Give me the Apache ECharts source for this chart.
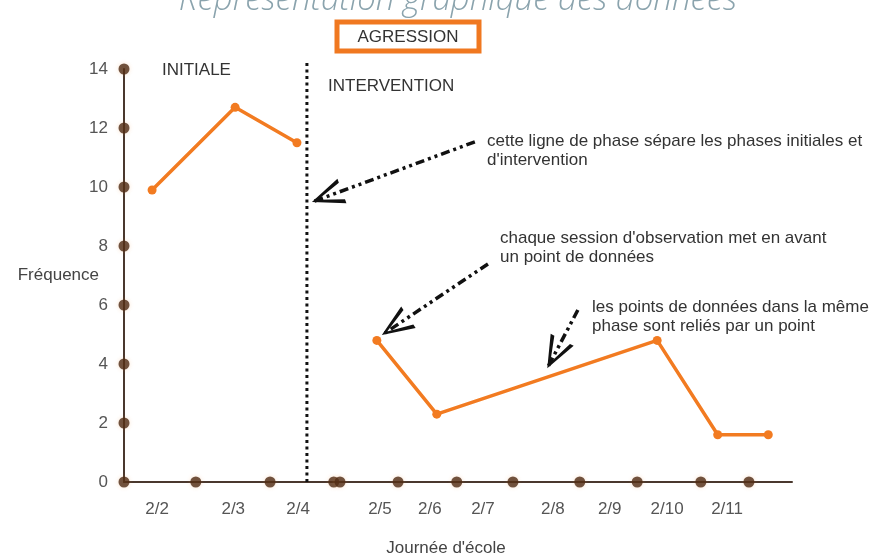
<!DOCTYPE html>
<html><head><meta charset="utf-8">
<script src="https://cdn.jsdelivr.net/npm/echarts@6/dist/echarts.min.js"></script>
<style>html,body{margin:0;padding:0;background:#fff}#c{width:890px;height:554px}</style>
</head><body><div id="c"></div>
<script>
// ---- data ----
const dayLabels = ['2/2','2/3','2/4','2/5','2/6','2/7','2/8','2/9','2/10','2/11'];
const dayLabelPos = [0.53,1.75,2.79,4.10,4.90,5.75,6.87,7.78,8.70,9.66];
const axisDotPos = [1.15,2.34,3.36,3.46,4.39,5.33,6.23,7.30,8.22,9.24,10.01];
const yTicks = [0,2,4,6,8,10,12,14];
const baselineX = [0.45,1.78,2.77];
const baselineY = [9.9,12.7,11.5];
const interventionX = [4.05,5.01,8.54,9.51,10.32];
const interventionY = [4.8,2.3,4.8,1.6,1.6];
const phaseLineX = 2.93;
const phaseLineTop = 14.2;
const arrowStarts = [[5.62,11.53],[5.83,7.39],[7.27,5.83]];
const arrowTips = [[3.01,9.49],[4.13,4.98],[6.78,3.86]];

const FONT = "'Liberation Sans', Arial, sans-serif";
const chevron = 'path://M50,-100 L50.01,-100 L50,-99.99 Z M50,0 L100,100 L84,100 L50,20 L16,100 L0,100 Z';

const zip = (xs, ys) => xs.map((x, i) => [x, ys[i]]);

const chart = echarts.init(document.getElementById('c'), null, {renderer: 'canvas'});
chart.setOption({
  animation: false,
  backgroundColor: '#ffffff',
  textStyle: {fontFamily: FONT},
  grid: {left: 124, right: 98, top: 69, bottom: 72, outerBoundsMode: 'none', containLabel: false},
  xAxis: {
    type: 'value', min: 0, max: 10.7,
    axisLine: {show: true, lineStyle: {color: '#4a382e', width: 2}},
    axisTick: {show: false},
    splitLine: {show: false},
    axisLabel: {
      customValues: dayLabelPos,
      formatter: (v) => {
        let best = 0;
        dayLabelPos.forEach((p, i) => { if (Math.abs(p - v) < Math.abs(dayLabelPos[best] - v)) best = i; });
        return dayLabels[best];
      },
      margin: 19, color: '#555', fontSize: 17, fontFamily: FONT
    },
    name: "Journée d'école", nameLocation: 'middle', nameGap: 58, nameMoveOverlap: false,
    nameTextStyle: {color: '#444', fontSize: 17, fontFamily: FONT, padding: [0, 24, 0, 0]}
  },
  yAxis: {
    type: 'value', min: 0, max: 14, interval: 2,
    axisLine: {show: true, lineStyle: {color: '#4a382e', width: 2}},
    axisTick: {show: false},
    splitLine: {show: false},
    axisLabel: {margin: 16, color: '#555', fontSize: 17, fontFamily: FONT},
    name: 'Fréquence', nameLocation: 'middle', nameRotate: 0, nameGap: 25, nameMoveOverlap: false,
    nameTextStyle: {color: '#444', fontSize: 17, fontFamily: FONT}
  },
  series: [
    {
      type: 'line', name: 'phase', data: [[phaseLineX, 0], [phaseLineX, phaseLineTop]],
      symbol: 'none', clip: false, silent: true,
      lineStyle: {color: '#111', width: 3, type: [3, 3.5]},
      markLine: {
        silent: true, symbol: ['none', chevron], symbolSize: [26, 64],
        label: {show: false},
        lineStyle: {color: '#111', width: 3.5, type: [9, 4, 3, 4, 3, 4]},
        data: arrowStarts.map((s, i) => [{coord: s}, {coord: arrowTips[i]}])
      }
    },
    {
      type: 'scatter', name: 'yDots', data: yTicks.map(v => [0, v]),
      symbol: 'circle', symbolSize: 11, clip: false, silent: true,
      itemStyle: {color: '#4e2a14', shadowColor: 'rgba(240,140,60,0.3)', shadowBlur: 4}
    },
    {
      type: 'scatter', name: 'xDots', data: axisDotPos.map(v => [v, 0]),
      symbol: 'circle', symbolSize: 11, clip: false, silent: true,
      itemStyle: {color: '#4e2a14', shadowColor: 'rgba(240,140,60,0.3)', shadowBlur: 4}
    },
    {
      type: 'line', name: 'Initiale', data: zip(baselineX, baselineY),
      symbol: 'circle', symbolSize: 9, showAllSymbol: true,
      lineStyle: {color: '#f27b21', width: 3.5},
      itemStyle: {color: '#f27b21'}
    },
    {
      type: 'line', name: 'Intervention', data: zip(interventionX, interventionY),
      symbol: 'circle', symbolSize: 9, showAllSymbol: true,
      lineStyle: {color: '#f27b21', width: 3.5},
      itemStyle: {color: '#f27b21'}
    }
  ],
  graphic: [
    {type: 'text', x: 458, y: 17, style: {text: 'Représentation graphique des données', fill: '#8aa3ad',
      font: "italic 300 33px 'Open Sans', Lato, sans-serif", textAlign: 'center', textVerticalAlign: 'bottom'}},
    {type: 'rect', shape: {x: 337, y: 22, width: 142, height: 29}, style: {fill: '#fff', stroke: '#f07820', lineWidth: 5}},
    {type: 'text', x: 408, y: 37, style: {text: 'AGRESSION', fill: '#333', font: "17px " + FONT, textAlign: 'center', textVerticalAlign: 'middle'}},
    {type: 'text', x: 162, y: 70, style: {text: 'INITIALE', fill: '#333', font: "17px " + FONT, textVerticalAlign: 'middle'}},
    {type: 'text', x: 328, y: 86, style: {text: 'INTERVENTION', fill: '#333', font: "17px " + FONT, textVerticalAlign: 'middle'}},
    {type: 'text', x: 487, y: 132, style: {text: "cette ligne de phase sépare les phases initiales et\nd'intervention", fill: '#333', font: "17px " + FONT, lineHeight: 19}},
    {type: 'text', x: 500, y: 229, style: {text: "chaque session d'observation met en avant\nun point de données", fill: '#333', font: "17px " + FONT, lineHeight: 19}},
    {type: 'text', x: 592, y: 298, style: {text: "les points de données dans la même\nphase sont reliés par un point", fill: '#333', font: "17px " + FONT, lineHeight: 19}}
  ]
});
</script></body></html>
